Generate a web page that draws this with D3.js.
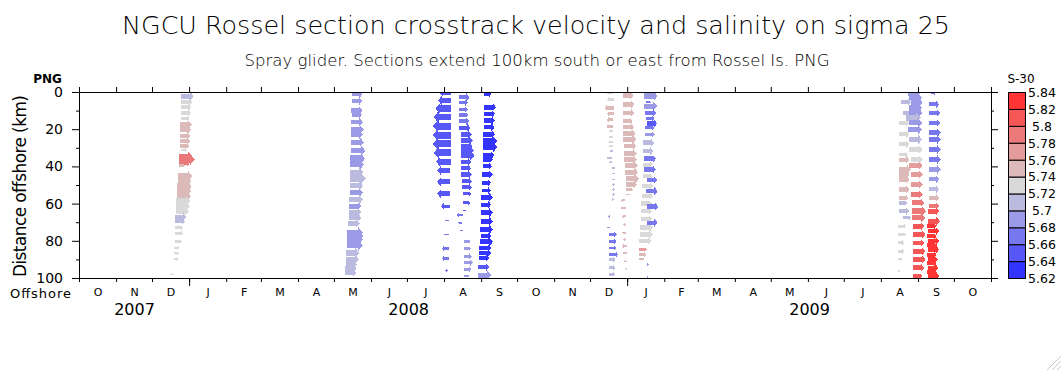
<!DOCTYPE html>
<html>
<head>
<meta charset="utf-8">
<script src="https://cdn.jsdelivr.net/npm/d3@7"></script>
<style>
body { margin: 0; background: #fff; }
svg text { font-family: "DejaVu Sans", sans-serif; fill: #000; }
</style>
</head>
<body>
<script>
// one array per glider section: [time at glider, distance offshore (km), crosstrack velocity (cm/s), salinity - 30]
var dec2007 = [
    ["2007-12-25 12", 2.2, 31, 5.71], ["2007-12-25 12", 5.5, 27, 5.73], ["2007-12-24 22", 8.2, 27, 5.73],
    ["2007-12-24 22", 11.2, 26, 5.73], ["2007-12-24 22", 14.2, 22, 5.73], ["2007-12-24 17", 17.5, 28, 5.75],
    ["2007-12-24 02", 20.2, 29, 5.75], ["2007-12-24 02", 23.7, 27, 5.75], ["2007-12-24 02", 26.4, 27, 5.75],
    ["2007-12-24 17", 29.1, 22, 5.75], ["2007-12-25 12", 31.3, 14, 5.73], ["2007-12-23 12", 34.5, 33, 5.79],
    ["2007-12-23 07", 36.3, 40, 5.79], ["2007-12-23 12", 38.0, 28, 5.79], ["2007-12-23 07", 39.5, 15, 5.75],
    ["2007-12-22 17", 45.3, 36, 5.75], ["2007-12-22 10", 48.0, 34, 5.75], ["2007-12-22 05", 50.6, 36, 5.75],
    ["2007-12-22 05", 53.3, 35, 5.75], ["2007-12-21 22", 56.0, 35, 5.75], ["2007-12-21 07", 58.7, 35, 5.73],
    ["2007-12-21 00", 61.4, 35, 5.73], ["2007-12-20 19", 64.1, 33, 5.73], ["2007-12-20 05", 67.1, 28, 5.71],
    ["2007-12-19 22", 69.5, 26, 5.71], ["2007-12-19 22", 73.0, 21, 5.73], ["2007-12-19 22", 76.0, 21, 5.73],
    ["2007-12-19 22", 80.2, 18, 5.73], ["2007-12-19 02", 83.8, 15, 5.73], ["2007-12-19 02", 86.8, 13, 5.73],
    ["2007-12-19 02", 90.0, 12, 5.73], ["2007-12-16 07", 98.0, 8, 5.73]
];
var may2008 = [
    ["2008-05-16 00", 1.3, 26, 5.69], ["2008-05-16 00", 4.9, 26, 5.69], ["2008-05-15 12", 9.9, 28, 5.69],
    ["2008-05-16 00", 12.1, 26, 5.69], ["2008-05-15 12", 16.2, 29, 5.69], ["2008-05-14 22", 20.2, 33, 5.69],
    ["2008-05-15 12", 22.8, 29, 5.69], ["2008-05-14 22", 27.0, 33, 5.69], ["2008-05-15 12", 31.5, 35, 5.69],
    ["2008-05-14 02", 35.8, 39, 5.69], ["2008-05-14 02", 39.0, 36, 5.69], ["2008-05-14 14", 43.1, 33, 5.71],
    ["2008-05-14 02", 46.5, 40, 5.71], ["2008-05-14 02", 50.3, 34, 5.71], ["2008-05-14 02", 54.2, 33, 5.69],
    ["2008-05-13 05", 57.8, 36, 5.71], ["2008-05-13 12", 61.4, 31, 5.69], ["2008-05-13 05", 64.6, 32, 5.71],
    ["2008-05-13 05", 67.6, 32, 5.71], ["2008-05-12 17", 70.7, 29, 5.71], ["2008-05-12 02", 75.7, 39, 5.69],
    ["2008-05-12 02", 77.6, 40, 5.69], ["2008-05-11 19", 79.3, 40, 5.69], ["2008-05-11 19", 82.4, 40, 5.69],
    ["2008-05-11 07", 86.5, 33, 5.71], ["2008-05-10 17", 90.0, 33, 5.71], ["2008-05-10 17", 92.7, 28, 5.71],
    ["2008-05-09 22", 95.0, 30, 5.71], ["2008-05-09 22", 97.2, 29, 5.71]
];
var aug2008a = [
    ["2008-08-07 00", 0.5, -29, 5.65], ["2008-08-07 00", 4.6, -33, 5.65], ["2008-08-07 00", 8.9, -39, 5.65],
    ["2008-08-06 10", 13.5, -42, 5.65], ["2008-08-06 10", 18.4, -44, 5.65], ["2008-08-06 10", 23.2, -44, 5.65],
    ["2008-08-06 10", 27.9, -44, 5.65], ["2008-08-06 10", 32.7, -42, 5.65], ["2008-08-06 10", 37.5, -36, 5.65],
    ["2008-08-05 14", 42.2, -31, 5.65], ["2008-08-05 14", 48.3, -31, 5.65], ["2008-08-05 14", 54.7, -31, 5.65],
    ["2008-08-05 14", 61.4, -21, 5.65], ["2008-08-04 19", 69.1, -10, 5.67], ["2008-08-04 19", 76.6, -12, 5.67],
    ["2008-08-04 19", 84.1, -17, 5.67], ["2008-08-04 19", 89.5, -17, 5.67], ["2008-08-04 05", 96.0, -7, 5.67]
];
var aug2008b = [
    ["2008-08-13 10", 2.8, 27, 5.67], ["2008-08-13 22", 5.8, 21, 5.67], ["2008-08-13 22", 9.4, 21, 5.67],
    ["2008-08-13 22", 12.5, 22, 5.67], ["2008-08-13 22", 15.7, 25, 5.67], ["2008-08-13 22", 19.2, 27, 5.65],
    ["2008-08-14 19", 22.8, 28, 5.65], ["2008-08-15 07", 26.1, 29, 5.65], ["2008-08-15 07", 29.1, 29, 5.65],
    ["2008-08-14 19", 31.5, 33, 5.65], ["2008-08-14 19", 34.0, 35, 5.65], ["2008-08-15 07", 37.5, 25, 5.65],
    ["2008-08-15 07", 41.1, 25, 5.65], ["2008-08-15 07", 44.4, 27, 5.65], ["2008-08-15 22", 48.0, 25, 5.65],
    ["2008-08-15 22", 51.2, 25, 5.65], ["2008-08-16 17", 54.7, 21, 5.65], ["2008-08-16 17", 59.6, 18, 5.65],
    ["2008-08-16 17", 63.7, 8, 5.65], ["2008-08-16 17", 66.2, -15, 5.67], ["2008-08-15 22", 70.3, -10, 5.67],
    ["2008-08-16 17", 74.5, -8, 5.67], ["2008-08-17 12", 80.5, 17, 5.69], ["2008-08-17 12", 84.1, 18, 5.69],
    ["2008-08-17 12", 88.3, 20, 5.69], ["2008-08-18 02", 91.8, 21, 5.69], ["2008-08-18 02", 95.4, 17, 5.69],
    ["2008-08-18 02", 99.0, 12, 5.69]
];
var sep2008 = [
    ["2008-09-03 19", 1.3, 17, 5.63], ["2008-09-03 19", 8.2, 29, 5.63], ["2008-09-03 07", 11.7, 28, 5.63],
    ["2008-09-03 07", 15.3, 28, 5.63], ["2008-09-03 07", 18.9, 27, 5.63], ["2008-09-02 17", 22.8, 30, 5.63],
    ["2008-09-02 10", 26.5, 36, 5.63], ["2008-09-02 17", 29.7, 35, 5.63], ["2008-09-02 10", 34.0, 29, 5.63],
    ["2008-09-02 10", 36.3, 25, 5.63], ["2008-09-02 10", 39.9, 23, 5.63], ["2008-09-01 14", 44.4, 27, 5.63],
    ["2008-09-01 14", 48.8, 23, 5.63], ["2008-09-01 14", 53.0, 23, 5.63], ["2008-09-01 02", 56.6, 29, 5.63],
    ["2008-09-01 02", 60.5, 25, 5.63], ["2008-08-31 12", 64.9, 31, 5.63], ["2008-08-31 12", 69.5, 31, 5.63],
    ["2008-08-31 05", 73.9, 32, 5.63], ["2008-08-31 12", 77.5, 27, 5.63], ["2008-08-31 05", 80.5, 32, 5.63],
    ["2008-08-30 14", 83.8, 29, 5.63], ["2008-08-30 14", 86.5, 29, 5.63], ["2008-08-30 14", 89.1, 25, 5.63],
    ["2008-08-29 19", 94.2, 27, 5.65], ["2008-08-29 19", 98.5, 32, 5.69]
];
var dec2008a = [
    ["2008-12-20 14", 0.5, -18, 5.73], ["2008-12-21 10", 4.0, -19, 5.73], ["2008-12-21 10", 8.5, -25, 5.75],
    ["2008-12-21 10", 11.6, -19, 5.75], ["2008-12-20 14", 14.8, -17, 5.75], ["2008-12-20 14", 18.4, -18, 5.75],
    ["2008-12-20 14", 21.1, -12, 5.73], ["2008-12-20 00", 24.1, -10, 5.73], ["2008-12-20 00", 27.0, -12, 5.73],
    ["2008-12-20 00", 29.1, -10, 5.73], ["2008-12-20 00", 31.8, -8, 5.71], ["2008-12-19 10", 35.4, -13, 5.71],
    ["2008-12-19 10", 37.7, -8, 5.71], ["2008-12-19 10", 40.8, 8, 5.71], ["2008-12-19 10", 43.8, 8, 5.71],
    ["2008-12-19 10", 47.0, 8, 5.71], ["2008-12-19 00", 49.7, 8, 5.71], ["2008-12-19 00", 52.4, 8, 5.71],
    ["2008-12-19 00", 55.1, 8, 5.71], ["2008-12-19 00", 57.8, 6, 5.71], ["2008-12-17 19", 66.8, -5, 5.69],
    ["2008-12-17 19", 73.0, -8, 5.69], ["2008-12-17 05", 76.6, 18, 5.67], ["2008-12-17 05", 80.2, 18, 5.67],
    ["2008-12-17 05", 83.8, 17, 5.67], ["2008-12-17 05", 87.4, 22, 5.67], ["2008-12-16 14", 90.0, 17, 5.71],
    ["2008-12-16 14", 94.5, 17, 5.71], ["2008-12-16 14", 98.1, 16, 5.71]
];
var dec2008b = [
    ["2008-12-28 07", 1.9, 27, 5.75], ["2008-12-28 07", 6.7, 29, 5.75], ["2008-12-28 07", 11.2, 29, 5.75],
    ["2008-12-28 07", 15.7, 25, 5.75], ["2008-12-28 14", 18.9, 27, 5.75], ["2008-12-28 22", 22.3, 30, 5.75],
    ["2008-12-28 22", 25.5, 32, 5.75], ["2008-12-29 17", 29.1, 29, 5.75], ["2008-12-29 17", 33.1, 31, 5.75],
    ["2008-12-29 17", 36.3, 31, 5.75], ["2008-12-30 14", 39.5, 31, 5.75], ["2008-12-30 14", 43.1, 31, 5.75],
    ["2008-12-31 05", 46.7, 32, 5.75], ["2008-12-31 05", 49.7, 27, 5.75], ["2008-12-31 05", 52.4, 17, 5.75],
    ["2008-12-31 05", 55.1, 10, 5.75], ["2008-12-30 14", 58.2, -11, 5.75], ["2008-12-31 05", 62.3, -14, 5.75],
    ["2008-12-31 05", 66.8, -10, 5.75], ["2008-12-31 05", 71.2, -8, 5.75], ["2008-12-31 05", 75.7, -10, 5.75],
    ["2008-12-31 05", 79.3, -8, 5.75], ["2008-12-31 17", 82.9, -12, 5.75], ["2008-12-31 17", 86.5, -10, 5.75],
    ["2008-12-31 17", 91.0, -8, 5.75], ["2008-12-31 17", 95.1, -5, 5.73]
];
var jan2009a = [
    ["2009-01-14 00", 27.3, 29, 5.71], ["2009-01-14 00", 31.8, 27, 5.71], ["2009-01-14 00", 39.0, 25, 5.73],
    ["2009-01-14 00", 45.3, 25, 5.73], ["2009-01-13 12", 50.6, 28, 5.73], ["2009-01-13 12", 56.0, 27, 5.73],
    ["2009-01-12 17", 60.0, 27, 5.73], ["2009-01-12 17", 64.1, 27, 5.73], ["2009-01-12 17", 68.2, 27, 5.73],
    ["2009-01-11 19", 73.0, 32, 5.73], ["2009-01-11 19", 76.6, 32, 5.73], ["2009-01-11 07", 80.2, 29, 5.73],
    ["2009-01-11 07", 84.7, 18, 5.77], ["2009-01-11 07", 87.4, 17, 5.75], ["2009-01-11 07", 90.0, 12, 5.75]
];
var jan2009b = [
    ["2009-01-15 10", 2.2, 33, 5.69], ["2009-01-16 22", 5.5, 12, 5.67], ["2009-01-15 10", 7.6, 32, 5.69],
    ["2009-01-16 07", 11.2, 27, 5.67], ["2009-01-16 22", 14.4, 21, 5.67], ["2009-01-17 10", 16.9, 26, 5.65],
    ["2009-01-16 07", 19.2, 22, 5.67], ["2009-01-16 07", 22.8, 23, 5.69], ["2009-01-15 10", 35.9, 29, 5.67],
    ["2009-01-15 10", 41.7, 29, 5.67], ["2009-01-17 10", 47.4, 26, 5.67], ["2009-01-16 22", 53.3, 29, 5.67],
    ["2009-01-17 10", 61.7, 29, 5.67], ["2009-01-17 10", 70.3, 27, 5.67], ["2009-01-17 10", 92.7, 5, 5.69],
    ["2009-01-17 10", 99.4, 5, 5.69]
];
var aug2009a = [
    ["2009-08-17 19", 5.5, 25, 5.71], ["2009-08-19 05", 11.2, 29, 5.71], ["2009-08-16 10", 16.6, 25, 5.73],
    ["2009-08-16 10", 22.8, 25, 5.73], ["2009-08-16 10", 28.2, 25, 5.73], ["2009-08-16 10", 33.6, 21, 5.73],
    ["2009-08-16 10", 36.3, 25, 5.75], ["2009-08-16 10", 41.7, 29, 5.75], ["2009-08-15 19", 44.4, 27, 5.75],
    ["2009-08-15 19", 47.0, 27, 5.75], ["2009-08-15 19", 52.4, 27, 5.75], ["2009-08-15 19", 56.9, 25, 5.75],
    ["2009-08-15 19", 59.6, 22, 5.71], ["2009-08-16 10", 64.1, 25, 5.71], ["2009-08-19 05", 67.6, 21, 5.71],
    ["2009-08-15 00", 72.2, 21, 5.73], ["2009-08-15 00", 76.6, 21, 5.73], ["2009-08-15 00", 81.1, 17, 5.73],
    ["2009-08-15 00", 85.6, 17, 5.73], ["2009-08-15 00", 90.0, 12, 5.73], ["2009-08-15 00", 96.3, 8, 5.73]
];
var aug2009b = [
    ["2009-08-23 07", 0.5, 33, 5.69], ["2009-08-24 17", 3.1, 32, 5.69], ["2009-08-26 05", 5.5, 29, 5.69],
    ["2009-08-24 17", 8.5, 32, 5.69], ["2009-08-24 17", 11.2, 33, 5.69], ["2009-08-22 00", 13.9, 37, 5.71],
    ["2009-08-24 17", 16.6, 32, 5.69], ["2009-08-23 07", 20.2, 36, 5.69], ["2009-08-24 17", 25.5, 32, 5.71],
    ["2009-08-24 17", 30.9, 33, 5.73], ["2009-08-26 05", 36.3, 29, 5.73], ["2009-08-24 17", 39.5, 33, 5.77],
    ["2009-08-26 05", 44.4, 29, 5.77], ["2009-08-26 05", 49.7, 29, 5.77], ["2009-08-26 05", 55.1, 29, 5.79],
    ["2009-08-27 00", 59.6, 31, 5.79], ["2009-08-27 00", 64.1, 35, 5.79], ["2009-08-27 00", 67.6, 33, 5.79],
    ["2009-08-27 12", 72.2, 29, 5.81], ["2009-08-27 12", 76.6, 32, 5.81], ["2009-08-27 12", 81.1, 29, 5.81],
    ["2009-08-27 12", 85.6, 32, 5.81], ["2009-08-27 12", 90.0, 32, 5.81], ["2009-08-27 12", 94.5, 29, 5.81],
    ["2009-08-27 12", 99.0, 25, 5.81]
];
var sep2009 = [
    ["2009-09-11 22", 0.5, 12, 5.67], ["2009-09-10 10", 6.7, 25, 5.67], ["2009-09-10 10", 11.2, 27, 5.67],
    ["2009-09-10 10", 16.6, 27, 5.67], ["2009-09-10 10", 21.9, 29, 5.67], ["2009-09-10 10", 25.5, 29, 5.67],
    ["2009-09-10 10", 30.9, 29, 5.67], ["2009-09-10 10", 36.3, 29, 5.67], ["2009-09-10 10", 41.7, 29, 5.69],
    ["2009-09-10 10", 47.0, 25, 5.69], ["2009-09-10 10", 52.4, 25, 5.71], ["2009-09-10 10", 56.9, 25, 5.75],
    ["2009-09-10 10", 61.4, 25, 5.79], ["2009-09-09 02", 64.1, 29, 5.81], ["2009-09-09 02", 69.5, 31, 5.81],
    ["2009-09-08 05", 72.0, 25, 5.83], ["2009-09-09 02", 74.8, 29, 5.83], ["2009-09-08 05", 77.5, 25, 5.83],
    ["2009-09-09 02", 80.2, 29, 5.83], ["2009-09-08 05", 82.5, 25, 5.83], ["2009-09-09 02", 84.7, 29, 5.83],
    ["2009-09-08 05", 87.5, 25, 5.83], ["2009-09-09 02", 90.0, 25, 5.83], ["2009-09-08 05", 92.0, 25, 5.83],
    ["2009-09-09 02", 94.5, 27, 5.83], ["2009-09-08 05", 97.0, 25, 5.83], ["2009-09-09 02", 99.0, 29, 5.83]
];

// drawing order of the sections
var sections = [dec2007, may2008, aug2008a, aug2008b, sep2008, dec2008a, dec2008b,
    jan2009a, jan2009b, aug2009a, aug2009b, sep2009];

// colour key levels (S-30) and their fills, lowest first
var salinityLevels = [5.62, 5.64, 5.66, 5.68, 5.7, 5.72, 5.74, 5.76, 5.78, 5.8, 5.82, 5.84];
var salinityColors = ["#3434ff", "#5858f6", "#7878ee", "#9a9ae6", "#bbbbdf", "#d9d9d9",
    "#dcbaba", "#e49b9b", "#ec7979", "#f55757", "#ff3434"];

var distanceTicks = [0, 20, 40, 60, 80, 100];
var distanceMinor = [10, 30, 50, 70, 90];
var timeRange = ["2007-10-01", "2009-11-01"];

var margin = {top: 92, right: 71, bottom: 93, left: 79},
    width = 1062 - margin.left - margin.right,
    height = 371 - margin.top - margin.bottom;

var parseTime = d3.utcParse("%Y-%m-%d %H");
var parseDay = d3.utcParse("%Y-%m-%d");

var x = d3.scaleUtc()
    .domain(timeRange.map(parseDay))
    .range([0, width]);

var y = d3.scaleLinear()
    .domain([0, 100])
    .range([0, height]);

// arrow length in px for a speed in cm/s
var speed = d3.scaleLinear()
    .domain([0, 50])
    .range([0, 20]);

var colour = d3.scaleThreshold()
    .domain(salinityLevels.slice(1, -1))
    .range(salinityColors);

var svg = d3.select("body").append("svg")
    .attr("width", 1062)
    .attr("height", 371);

// titles
svg.append("text")
    .attr("x", 536).attr("y", 34)
    .attr("text-anchor", "middle")
    .attr("font-size", 24).attr("font-weight", 200)
    .attr("textLength", 828).attr("lengthAdjust", "spacingAndGlyphs")
    .text("NGCU Rossel section crosstrack velocity and salinity on sigma 25");

svg.append("text")
    .attr("x", 537).attr("y", 66)
    .attr("text-anchor", "middle")
    .attr("font-size", 15).attr("font-weight", 200)
    .attr("textLength", 585).attr("lengthAdjust", "spacingAndGlyphs")
    .text("Spray glider. Sections extend 100km south or east from Rossel Is. PNG");

var g = svg.append("g")
    .attr("transform", "translate(" + margin.left + "," + margin.top + ")");

g.append("clipPath").attr("id", "plot-clip")
    .append("rect")
    .attr("x", 0.5).attr("y", 0.5)
    .attr("width", width).attr("height", height);

// arrow outline, tail at the glider position, pointing along the velocity
function arrowPath(d) {
    var x0 = x(parseTime(d[0])),
        y0 = y(d[1]),
        dir = d[2] < 0 ? -1 : 1,
        len = speed(Math.abs(d[2])),
        w = Math.max(0.7, len * 0.2),
        hl = Math.max(1.5, len * 0.3),
        hw = Math.max(1.4, len * 0.37);
    var pts = [[0, -w], [len - hl, -w], [len - hl, -hw], [len, 0], [len - hl, hw], [len - hl, w], [0, w]];
    return "M" + pts.map(function (p) {
        return [x0 + dir * p[0], y0 + p[1]];
    }).join("L") + "Z";
}

var marks = g.append("g")
    .attr("clip-path", "url(#plot-clip)");

marks.selectAll("g")
    .data(sections)
    .enter().append("g")
    .selectAll("path")
    .data(function (d) {
        return d;
    })
    .enter().append("path")
    .attr("d", arrowPath)
    .attr("fill", function (d) {
        return colour(d[3]);
    })
    .attr("shape-rendering", "crispEdges");

// axes on all four sides
function styleAxis(sel) {
    sel.selectAll("path, line").attr("stroke", "#000");
    sel.attr("font-family", null).attr("font-size", null);
}

var months = d3.utcMonth.range(x.domain()[0], d3.utcMonth.offset(x.domain()[1], 1));
var years = d3.utcYear.range(x.domain()[0], x.domain()[1]);

g.append("g")
    .call(d3.axisTop(x).tickValues(months).tickSize(5).tickSizeOuter(0).tickFormat(""))
    .call(styleAxis);

g.append("g")
    .attr("transform", "translate(0," + height + ")")
    .call(d3.axisBottom(x).tickValues(months).tickSize(4).tickSizeOuter(0).tickFormat(""))
    .call(styleAxis);

g.append("g")
    .attr("transform", "translate(0," + height + ")")
    .call(d3.axisBottom(x).tickValues(years.filter(function (d) {
        return d > x.domain()[0];
    })).tickSize(8).tickSizeOuter(0).tickFormat(""))
    .call(styleAxis)
    .select(".domain").remove();

g.append("g")
    .call(d3.axisLeft(y).tickValues(distanceTicks).tickSize(7).tickSizeOuter(0).tickPadding(9))
    .call(styleAxis)
    .selectAll("text")
    .attr("font-size", 14);

g.append("g")
    .call(d3.axisLeft(y).tickValues(distanceMinor).tickSize(3).tickSizeOuter(0).tickFormat(""))
    .call(styleAxis);

g.append("g")
    .attr("transform", "translate(" + width + ",0)")
    .call(d3.axisRight(y).tickValues(distanceTicks).tickSize(7).tickSizeOuter(0).tickFormat(""))
    .call(styleAxis);

g.append("g")
    .attr("transform", "translate(" + width + ",0)")
    .call(d3.axisRight(y).tickValues(distanceMinor).tickSize(3).tickSizeOuter(0).tickFormat(""))
    .call(styleAxis);

// month initials centred in each month, year under the visible part of the year
var monthLetter = d3.utcFormat("%b");
g.append("g")
    .attr("font-size", 11)
    .attr("text-anchor", "middle")
    .selectAll("text")
    .data(months.filter(function (d) {
        return d < x.domain()[1];
    }))
    .enter().append("text")
    .attr("x", function (d) {
        return (x(d) + x(d3.utcMonth.offset(d, 1))) / 2 + 0.5;
    })
    .attr("y", height + 18)
    .text(function (d) {
        return monthLetter(d).charAt(0);
    });

g.append("g")
    .attr("font-size", 16)
    .attr("text-anchor", "middle")
    .selectAll("text")
    .data(d3.utcYear.range(d3.utcYear.floor(x.domain()[0]), x.domain()[1]))
    .enter().append("text")
    .attr("x", function (d) {
        var a = Math.max(x(d), 0),
            b = Math.min(x(d3.utcYear.offset(d, 1)), width);
        return (a + b) / 2 + 0.5;
    })
    .attr("y", height + 37)
    .text(d3.utcFormat("%Y"));

// axis captions
svg.append("text")
    .attr("x", 47.5).attr("y", 83)
    .attr("text-anchor", "middle")
    .attr("font-size", 12).attr("font-weight", "bold")
    .text("PNG");

svg.append("text")
    .attr("x", 40.5).attr("y", 298)
    .attr("text-anchor", "middle")
    .attr("font-size", 13)
    .attr("textLength", 61)
    .text("Offshore");

svg.append("text")
    .attr("transform", "translate(26,186) rotate(-90)")
    .attr("text-anchor", "middle")
    .attr("font-size", 17)
    .attr("textLength", 182)
    .text("Distance offshore (km)");

// colour key
var keyY = d3.scaleLinear()
    .domain([salinityLevels[0], salinityLevels[salinityLevels.length - 1]])
    .range([height, 0]);

var key = svg.append("g")
    .attr("transform", "translate(1008," + margin.top + ")");

key.selectAll("rect")
    .data(salinityColors)
    .enter().append("rect")
    .attr("x", 0.5)
    .attr("y", function (d, i) {
        return keyY(salinityLevels[i + 1]) + 0.5;
    })
    .attr("width", 17)
    .attr("height", function (d, i) {
        return keyY(salinityLevels[i]) - keyY(salinityLevels[i + 1]);
    })
    .attr("fill", function (d) {
        return d;
    })
    .attr("stroke", "#000");

key.selectAll("text")
    .data(salinityLevels)
    .enter().append("text")
    .attr("x", 34)
    .attr("y", function (d) {
        return keyY(d) + 0.5;
    })
    .attr("dy", "0.35em")
    .attr("text-anchor", "middle")
    .attr("font-size", 12.5)
    .text(function (d) {
        return String(+d.toFixed(2));
    });

svg.append("text")
    .attr("x", 1021).attr("y", 83)
    .attr("text-anchor", "middle")
    .attr("font-size", 12)
    .text("S-30");

// window resize grip in the corner
svg.append("path")
    .attr("d", "M1047,370L1061,356M1052,370L1061,361M1057,370L1061,366")
    .attr("stroke", "#c8c8c8")
    .attr("fill", "none");
</script>
</body>
</html>
